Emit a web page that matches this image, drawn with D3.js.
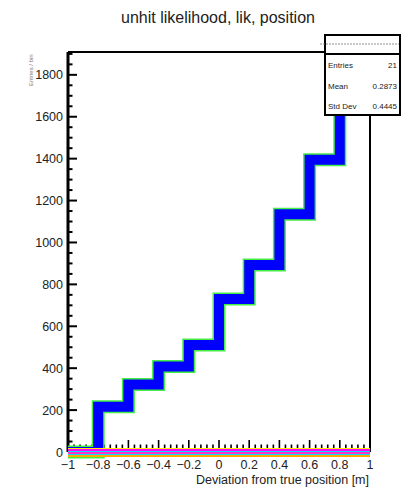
<!DOCTYPE html>
<html><head><meta charset="utf-8">
<script src="https://cdn.jsdelivr.net/npm/d3@7"></script>
<style>body{margin:0;background:#fff}svg{display:block}text{font-family:"Liberation Sans",Arial,Helvetica,sans-serif;fill:#222}</style>
</head><body>
<script>
// ---- data ----
const title = "unhit likelihood, lik, position";
const xTitle = "Deviation from true position [m]";
const yTitle = "Entries / bin";
const binEdges = [-1,-0.8,-0.6,-0.4,-0.2,0,0.2,0.4,0.6,0.8,1];
const binValues = [0,216,322,408,511,730,893,1135,1395,1820];
const zeroSeries = [0,0,0,0,0,0,0,0,0,0];
const stripeColors = ["#ffee00","#ff00ff","#00e5ff","#ff33cc","#00e5ff","#ffaa00"];
const stripeOffsets = [-3.5,-2,-0.5,1,2.5,4];
const xTicks = [-1,-0.8,-0.6,-0.4,-0.2,0,0.2,0.4,0.6,0.8,1];
const xTickLabels = ["\u22121","\u22120.8","\u22120.6","\u22120.4","\u22120.2","0","0.2","0.4","0.6","0.8","1"];
const yTicks = [0,200,400,600,800,1000,1200,1400,1600,1800];
const statsLabels = ["Entries","Mean","Std Dev"];
const statsValues = ["21","0.2873","0.4445"];

const W=404,H=494;
const svg=d3.select("body").append("svg").attr("width",W).attr("height",H);
const x=d3.scaleLinear().domain([-1,1]).range([68,370]);
const y=d3.scaleLinear().domain([0,1909]).range([452,52]);

// title
svg.append("text").attr("x",218).attr("y",23).attr("text-anchor","middle").attr("font-size",16).text(title);

// y title (tiny)
svg.append("text").attr("transform","translate(33,86) rotate(-90)").attr("font-size",6).style("fill","#777").text(yTitle);

// frame lines
svg.append("line").attr("x1",68).attr("x2",370).attr("y1",52).attr("y2",52).attr("stroke","#000").attr("stroke-width",2);
svg.append("line").attr("x1",370).attr("x2",370).attr("y1",52).attr("y2",452).attr("stroke","#000").attr("stroke-width",2);

// y axis
const yMinor=d3.range(0,1910,50);
svg.append("g").selectAll("line").data(yMinor).join("line")
 .attr("x1",68).attr("x2",d=>d%200===0?77:72.5).attr("y1",d=>y(d)).attr("y2",d=>y(d))
 .attr("stroke","#000").attr("stroke-width",2);
svg.append("line").attr("x1",68).attr("x2",68).attr("y1",52).attr("y2",452).attr("stroke","#000").attr("stroke-width",3);
svg.append("g").selectAll("text").data(yTicks).join("text")
 .attr("x",63).attr("y",d=>y(d)+4.5).attr("text-anchor","end").attr("font-size",12.5).text(d=>d);

// x axis ticks
const xMinor=d3.range(0,51).map(i=>-1+i*0.04);
svg.append("g").selectAll("line").data(xMinor).join("line")
 .attr("x1",d=>x(d)).attr("x2",d=>x(d)).attr("y1",452).attr("y2",(d,i)=>i%5===0?440:444.5)
 .attr("stroke","#000").attr("stroke-width",1.6);
svg.append("g").selectAll("text").data(xTicks).join("text")
 .attr("x",d=>x(d)).attr("y",469).attr("text-anchor","middle").attr("font-size",12.5).text((d,i)=>xTickLabels[i]);
svg.append("text").attr("x",369).attr("y",484).attr("text-anchor","end").attr("font-size",12.5).text(xTitle);

// histogram
const pts=binValues.map((v,i)=>[binEdges[i],v]).concat([[1,binValues[binValues.length-1]]]);
const line=d3.line().x(d=>x(d[0])).y(d=>y(d[1])).curve(d3.curveStepAfter);
svg.append("path").attr("d",line(pts)).attr("fill","none").attr("stroke","#44ee44").attr("stroke-width",13).attr("stroke-linejoin","miter");
svg.append("path").attr("d",line(pts)).attr("fill","none").attr("stroke","#0000ff").attr("stroke-width",10).attr("stroke-linejoin","miter");

// zero-valued overlay histograms
stripeColors.forEach((c,k)=>{
  const zp=zeroSeries.map((v,i)=>[binEdges[i],v]).concat([[1,0]]);
  svg.append("path").attr("d",line(zp)).attr("transform",`translate(0,${stripeOffsets[k]})`)
   .attr("fill","none").attr("stroke",c).attr("stroke-width",1.6).attr("shape-rendering","crispEdges");
});

// stats box
svg.append("rect").attr("x",325).attr("y",35).attr("width",75).attr("height",80).attr("fill","#fff").attr("stroke","#000").attr("stroke-width",2);
svg.append("line").attr("x1",320).attr("x2",399).attr("y1",44).attr("y2",44).attr("stroke","#777").attr("stroke-width",0.8).attr("stroke-dasharray","2,1");
svg.append("line").attr("x1",325).attr("x2",400).attr("y1",54).attr("y2",54).attr("stroke","#000").attr("stroke-width",2);
svg.append("g").selectAll("text").data(statsLabels).join("text")
 .attr("x",328).attr("y",(d,i)=>68+i*20.5).attr("font-size",8).text(d=>d);
svg.append("g").selectAll("text").data(statsValues).join("text")
 .attr("x",397).attr("y",(d,i)=>68+i*20.5).attr("text-anchor","end").attr("font-size",8).text(d=>d);
</script>
</body></html>
